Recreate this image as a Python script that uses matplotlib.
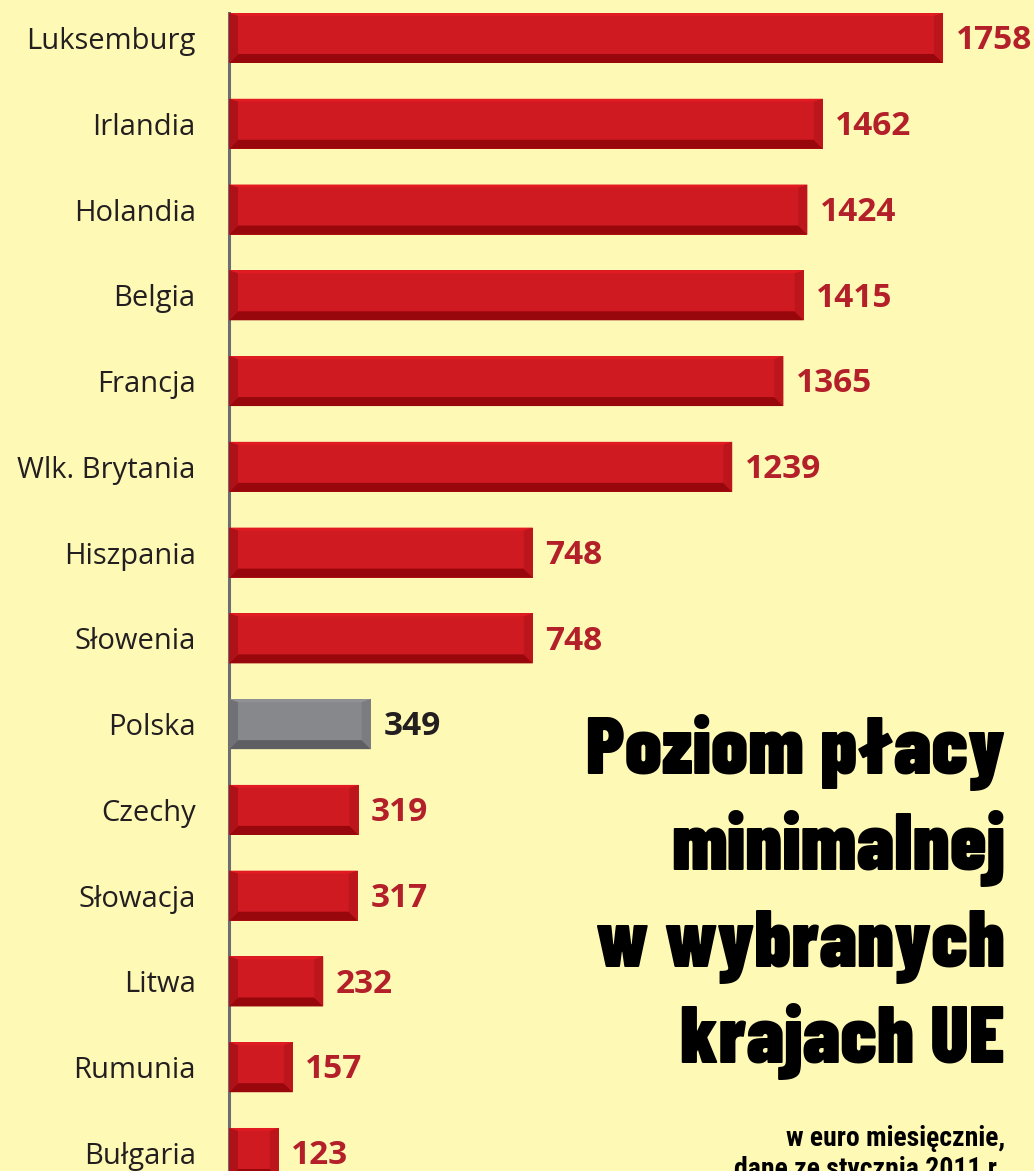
import matplotlib
matplotlib.use("Agg")
import matplotlib.pyplot as plt
from matplotlib.patches import Polygon

# data
countries = ["Luksemburg", "Irlandia", "Holandia", "Belgia", "Francja", "Wlk. Brytania",
             "Hiszpania", "Słowenia", "Polska", "Czechy", "Słowacja", "Litwa",
             "Rumunia", "Bułgaria"]
values = [1758, 1462, 1424, 1415, 1365, 1239, 748, 748, 349, 319, 317, 232, 157, 123]
highlight = "Polska"

title_lines = ["Poziom płacy", "minimalnej", "w wybranych", "krajach UE"]
subtitle_lines = ["w euro miesięcznie,", "dane ze stycznia 2011 r."]

bg = "#FFF9B6"
red = dict(body="#D01A21", top="#E11B22", bottom="#98070C", left="#AE1218", right="#BC151B",
           label="#B3202A")
grey = dict(body="#87888C", top="#909195", bottom="#5E5F63", left="#707175", right="#7B7C80",
            label="#231F20")
body_font = ["Open Sans", "Lato"]
title_font = ["Barlow Condensed", "Francois One", "Anton"]
sub_font = ["Roboto Condensed", "Archivo Narrow", "Oswald", "DejaVu Sans"]

W, H = 1034, 1171
fig = plt.figure(figsize=(W / 100, H / 100), dpi=100, facecolor=bg)

# axes geometry (pixels)
ax_left = 229
ax_w = W - ax_left
xmax = 1982
ymin, ymax = -0.443, 13.21
ax = fig.add_axes([ax_left / W, 0, ax_w / W, 1])
ax.set_facecolor(bg)
ax.set_xlim(0, xmax)
ax.set_ylim(ymax, ymin)

px_x = ax_w / xmax          # pixels per value unit
px_y = H / (ymax - ymin)    # pixels per category
bar_h = 50 / px_y

ypos = list(range(len(countries)))
for y, v, c in zip(ypos, values, countries):
    pal = grey if c == highlight else red
    ax.barh(y, v, height=bar_h, color=pal["body"], zorder=2)
    t, b = y - bar_h / 2, y + bar_h / 2
    dx = 9 / px_x
    dyb = 9 / px_y
    dyt = 3 / px_y
    bands = [
        ([(0, t), (v, t), (v - dx, t + dyt), (dx, t + dyt)], pal["top"]),
        ([(0, b), (v, b), (v - dx, b - dyb), (dx, b - dyb)], pal["bottom"]),
        ([(0, t), (dx, t + dyt), (dx, b - dyb), (0, b)], pal["left"]),
        ([(v, t), (v - dx, t + dyt), (v - dx, b - dyb), (v, b)], pal["right"]),
    ]
    for pts, col in bands:
        ax.add_patch(Polygon(pts, closed=True, facecolor=col, edgecolor="none", zorder=3))
    ax.annotate(str(v), (v, y), xytext=(9, -2), textcoords="offset points",
                ha="left", va="center", fontsize=24, fontweight="bold",
                family=body_font, color=pal["label"], zorder=4)

ax.set_yticks(ypos)
ax.set_yticklabels(countries, fontsize=21, family=body_font, color="#231F20")
ax.tick_params(axis="y", length=0, pad=24)
ax.set_xticks([])
for s in ["top", "right", "bottom"]:
    ax.spines[s].set_visible(False)
ax.spines["left"].set_color("#6D6E71")
ax.spines["left"].set_linewidth(2.2)
ax.spines["left"].set_bounds(-bar_h / 2, ymax)
ax.spines["left"].set_zorder(1)

# title block (baselines in pixels from top)
ty = [774, 870, 967, 1063]
for line, yy in zip(title_lines, ty):
    fig.text(1005 / W, 1 - yy / H, line, ha="right", va="baseline",
             fontsize=58, fontweight=900, family=title_font, color="black")
for line, yy in zip(subtitle_lines, [1146, 1177]):
    fig.text(1005 / W, 1 - yy / H, line, ha="right", va="baseline",
             fontsize=20, fontweight="bold", family=sub_font, color="black")

fig.savefig("out.png", dpi=100, facecolor=bg)
